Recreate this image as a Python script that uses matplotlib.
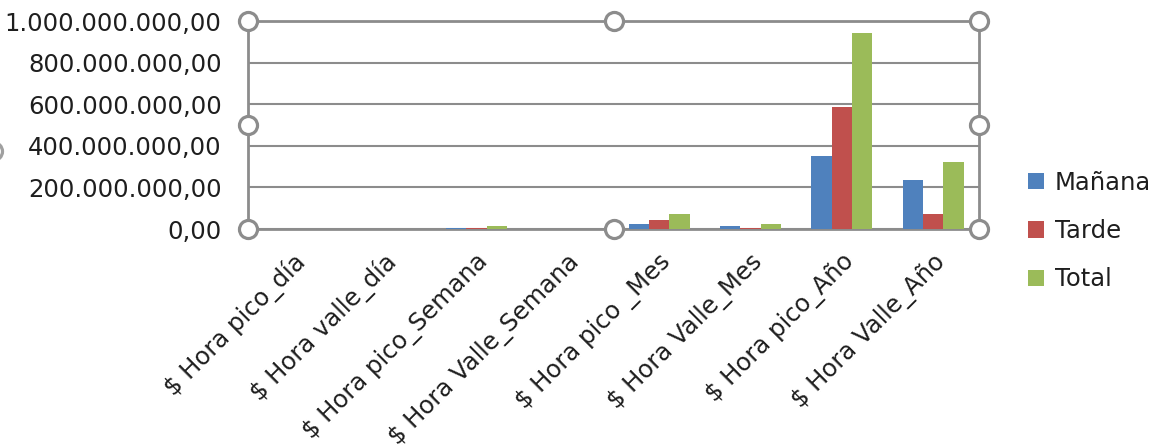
import numpy as np
import matplotlib.pyplot as plt
from matplotlib.ticker import FuncFormatter
import matplotlib.transforms as mtransforms

# data
categories = ['$ Hora pico_día', '$ Hora valle_día', '$ Hora pico_Semana', '$ Hora Valle_Semana',
              '$ Hora pico _Mes', '$ Hora Valle_Mes', '$ Hora pico_Año', '$ Hora Valle_Año']
manana = [0.5e6, 0.3e6, 3e6, 1e6, 24e6, 14e6, 353e6, 237e6]
tarde = [0.8e6, 0.1e6, 5e6, 0.3e6, 44e6, 3e6, 585e6, 73e6]
total = [1.3e6, 0.4e6, 13e6, 1.3e6, 73e6, 24e6, 944e6, 323e6]
series_names = ['Mañana', 'Tarde', 'Total']
colors = ['#4F81BD', '#C0504D', '#9BBB59']

plt.rcParams['font.family'] = 'DejaVu Sans'
plt.rcParams['font.size'] = 17.5
txt_color = '#1e1e1e'

fig = plt.figure(figsize=(11.52, 4.48), dpi=100)
ax = fig.add_axes([248 / 1152, 1 - 229 / 448, (979 - 248) / 1152, (229 - 21) / 448])

x = np.arange(len(categories))
w = 1 / 4.5
for i, (vals, name) in enumerate(zip([manana, tarde, total], series_names)):
    ax.bar(x + (i - 1) * w, vals, w, color=colors[i], label=name, zorder=3)

ax.set_xlim(-0.5, len(categories) - 0.5)
ax.set_ylim(0, 1e9)
ax.set_yticks(np.arange(0, 1.01e9, 2e8))


def es_fmt(v, pos):
    s = f'{v:,.2f}'
    return s.replace(',', 'X').replace('.', ',').replace('X', '.')


ax.yaxis.set_major_formatter(FuncFormatter(es_fmt))
ax.yaxis.grid(True, color='#8c8c8c', linewidth=1.5, zorder=1)
ax.tick_params(axis='y', length=0, pad=19, labelcolor=txt_color)
ax.tick_params(axis='x', length=0, pad=21, labelcolor=txt_color)

for sp in ax.spines.values():
    sp.set_color('#8c8c8c')
    sp.set_linewidth(2)

ax.set_xticks(x)
ax.set_xticklabels(categories)
shift = mtransforms.ScaledTranslation(8 / 100, 0, fig.dpi_scale_trans)
for lab in ax.get_xticklabels():
    lab.set_rotation(45)
    lab.set_ha('right')
    lab.set_va('center')
    lab.set_rotation_mode('anchor')
    lab.set_transform(lab.get_transform() + shift)

# selection handles round the plot area
hx = [0, 0.5, 1, 0, 1, 0, 0.5, 1]
hy = [1, 1, 1, 0.5, 0.5, 0, 0, 0]
ax.plot(hx, hy, 'o', ms=13, mfc='white', mec='#8c8c8c', mew=2.3,
        transform=ax.transAxes, clip_on=False, zorder=10, linestyle='none')
# chart area handle cut off at the left edge
ax.plot([-7 / 1152], [1 - 151 / 448], 'o', ms=13, mfc='white', mec='#a0a0a0', mew=2.3,
        transform=fig.transFigure, clip_on=False, zorder=10)

fig.legend(loc='center left', bbox_to_anchor=(1028 / 1152, 1 - 231 / 448), frameon=False,
           borderpad=0, borderaxespad=0, handlelength=0.65, handleheight=0.65,
           handletextpad=0.45, labelspacing=1.0, labelcolor=txt_color)

fig.savefig('out.png', dpi=100, facecolor='white')
